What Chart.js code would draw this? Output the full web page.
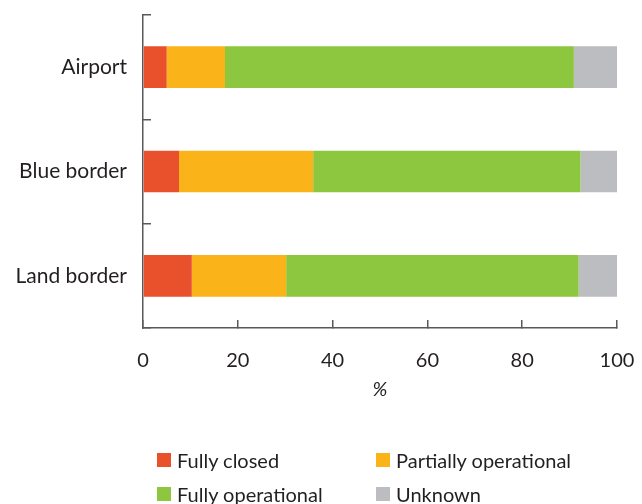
<!DOCTYPE html>
<html>
<head>
<meta charset="utf-8">
<script src="https://cdn.jsdelivr.net/npm/chart.js@4/dist/chart.umd.min.js"></script>
<style>
  html, body { margin: 0; padding: 0; background: #ffffff; }
  #wrap { position: relative; width: 642px; height: 504px; overflow: hidden; }
  #c { position: absolute; left: 0; top: 0; }
  #legend { position: absolute; left: 157px; top: 448px; width: 480px; font-family: Lato, sans-serif; font-size: 20px; color: #231f20; }
  .item { position: absolute; display: flex; align-items: center; white-space: nowrap; }
  .box { width: 14px; height: 14px; margin-right: 6px; }
</style>
</head>
<body>
<div id="wrap">
  <canvas id="c" width="642" height="504"></canvas>
  <div id="legend"></div>
</div>
<script>
const categories = ["Airport", "Blue border", "Land border"];
const fullyClosed = [5.0, 7.6, 10.3];
const partiallyOperational = [12.3, 28.3, 19.9];
const fullyOperational = [73.6, 56.4, 61.7];
const unknown = [9.1, 7.7, 8.1];
const seriesNames = ["Fully closed", "Partially operational", "Fully operational", "Unknown"];
const seriesColors = ["#e9512d", "#fab41a", "#8dc63f", "#bcbdc0"];
const xTicks = [0, 20, 40, 60, 80, 100];
const xTitle = "%";

const values = [fullyClosed, partiallyOperational, fullyOperational, unknown];
const datasets = seriesNames.map((name, i) => ({
  label: name,
  data: values[i],
  backgroundColor: seriesColors[i],
  borderWidth: 0,
  barPercentage: 0.4,
  categoryPercentage: 1.0
}));

const axisColor = "#58595b";
const textColor = "#231f20";

const chart = new Chart(document.getElementById("c"), {
  type: "bar",
  data: { labels: categories, datasets },
  options: {
    indexAxis: "y",
    responsive: false,
    animation: false,
    layout: { padding: { top: 15, right: 25, left: 0, bottom: 96 } },
    plugins: { legend: { display: false }, tooltip: { enabled: false } },
    scales: {
      x: {
        stacked: true,
        min: 0, max: 100,
        afterBuildTicks: (s) => { s.ticks = xTicks.map(v => ({ value: v })); },
        afterFit: (s) => { s.height = 80; s.paddingLeft = 0; s.paddingRight = 0; },
        grid: { drawOnChartArea: false, tickLength: -8, color: axisColor, lineWidth: 1.5 },
        border: { color: axisColor, width: 1.5 },
        ticks: { padding: 29, color: textColor, font: { family: "Lato", size: 20 } },
        title: { display: true, text: xTitle, color: textColor, padding: { top: 0, bottom: 6 }, font: { family: "Lato", size: 20, style: "italic" } }
      },
      y: {
        stacked: true,
        afterFit: (s) => { s.width = 143; s.paddingTop = 0; s.paddingBottom = 0; },
        grid: { drawOnChartArea: false, offset: true, tickLength: -8, color: axisColor, lineWidth: 1.5 },
        border: { color: axisColor, width: 1.5 },
        ticks: { padding: 24, color: textColor, font: { family: "Lato", size: 21 } }
      }
    }
  }
});

const legend = document.getElementById("legend");
const pos = [[0, 0], [219, 0], [0, 34], [219, 34]];
chart.data.datasets.forEach((ds, i) => {
  const it = document.createElement("div");
  it.className = "item";
  it.style.left = pos[i][0] + "px";
  it.style.top = pos[i][1] + "px";
  const b = document.createElement("span");
  b.className = "box";
  b.style.background = ds.backgroundColor;
  const t = document.createElement("span");
  t.textContent = ds.label;
  it.appendChild(b); it.appendChild(t);
  legend.appendChild(it);
});
</script>
</body>
</html>
